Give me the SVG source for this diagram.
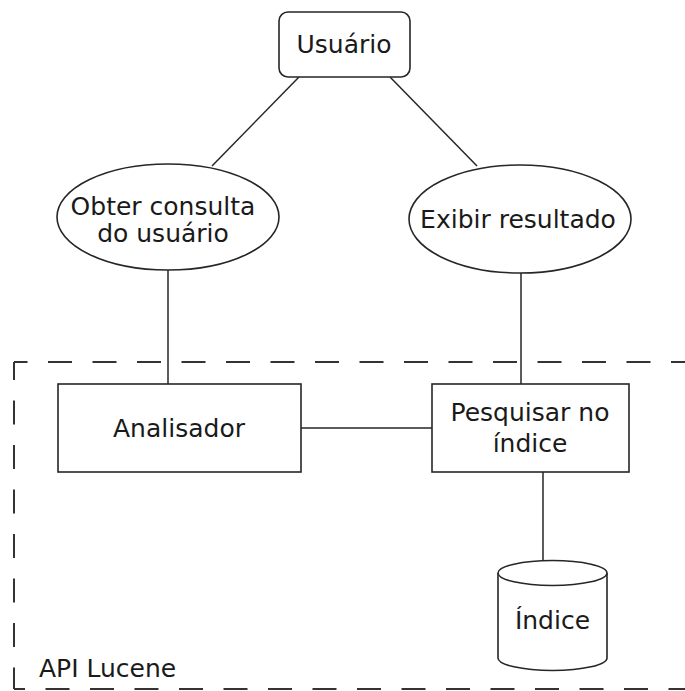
<svg xmlns="http://www.w3.org/2000/svg" width="685" height="691" viewBox="0 0 685 691">
  <style>
    .shape { fill: #ffffff; stroke: #262626; stroke-width: 1.6; }
    .edge { fill: none; stroke: #262626; stroke-width: 1.5; }
    .boundary { fill: none; stroke: #333333; stroke-width: 2; stroke-dasharray: 24 20.5; }
    text { font-family: "DejaVu Sans", "Liberation Sans", sans-serif; font-size: 25px; fill: #1a1a1a; text-anchor: middle; }
    .label { text-anchor: start; }
  </style>
  <rect width="685" height="691" fill="#ffffff"/>

  <!-- system boundary (dashed frame, open to the right) -->
  <g id="api-lucene">
    <line class="boundary" x1="14" y1="362" x2="690" y2="362" stroke-dashoffset="10.5"/>
    <line class="boundary" x1="14" y1="362" x2="14" y2="689" stroke-dashoffset="6"/>
    <line class="boundary" x1="14" y1="689" x2="690" y2="689" stroke-dashoffset="13"/>
    <text class="label" x="39" y="677">API Lucene</text>
  </g>

  <!-- connectors -->
  <g id="connectors">
    <line class="edge" x1="299" y1="77" x2="212" y2="166"/>
    <line class="edge" x1="390" y1="77" x2="477" y2="166"/>
    <line class="edge" x1="168" y1="270" x2="168" y2="384"/>
    <line class="edge" x1="521" y1="273" x2="521" y2="384"/>
    <line class="edge" x1="301" y1="428" x2="432" y2="428"/>
    <line class="edge" x1="543" y1="472" x2="543" y2="561"/>
  </g>

  <g id="usuario">
    <rect class="shape" x="279" y="12" width="131" height="65" rx="9" ry="9"/>
    <text x="344" y="53">Usuário</text>
  </g>

  <g id="obter-consulta">
    <ellipse class="shape" cx="168" cy="217" rx="111" ry="53" stroke-width="1.3"/>
    <text x="163" y="215">Obter consulta</text>
    <text x="163" y="242">do usuário</text>
  </g>

  <g id="exibir-resultado">
    <ellipse class="shape" cx="520" cy="219" rx="111" ry="54" stroke-width="1.3"/>
    <text x="518" y="228">Exibir resultado</text>
  </g>

  <g id="analisador">
    <rect class="shape" x="58" y="384" width="243" height="88"/>
    <text x="179" y="437">Analisador</text>
  </g>

  <g id="pesquisar">
    <rect class="shape" x="432" y="384" width="197" height="88"/>
    <text x="530" y="421">Pesquisar no</text>
    <text x="530" y="452">índice</text>
  </g>

  <g id="indice">
    <path class="shape" d="M498 573 L498 658 A54.5 12.5 0 0 0 607 658 L607 573"/>
    <ellipse class="shape" cx="552.5" cy="573" rx="54.5" ry="12.5"/>
    <text x="552.5" y="629">Índice</text>
  </g>
</svg>
